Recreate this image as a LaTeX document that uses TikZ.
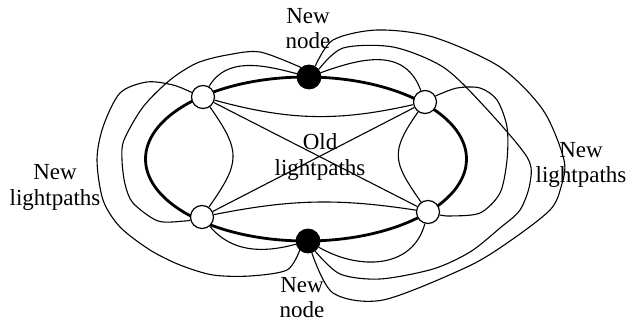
\documentclass[tikz,border=0pt]{standalone}
\usepackage{fontspec}
\setmainfont{Liberation Serif}
\begin{document}
\begin{tikzpicture}[x=1pt,y=1pt,
  ringline/.style={line width=2.8pt},
  pathline/.style={line width=1.1pt},
  site/.style={circle,draw,line width=1.2pt,fill=white,minimum size=23pt,inner sep=0pt},
  newsite/.style={circle,draw,line width=0.8pt,fill=black,minimum size=24pt,inner sep=0pt},
  lbl/.style={align=center,inner sep=0pt,font=\fontsize{23}{25.5}\selectfont}]
\useasboundingbox (0,0) rectangle (639,324);

% fibre ring
\draw[ringline] (306,165) ellipse [x radius=160.5, y radius=82];

% existing and added nodes on the ring
\node[site] (TL) at (203,227) {};
\node[site] (TR) at (425,222) {};
\node[site] (BR) at (428,112) {};
\node[site] (BL) at (202,107) {};
\node[newsite] (T) at (309,247) {};
\node[newsite] (B) at (308,83) {};

% old lightpaths inside the ring
\draw[pathline] (TL) -- (BR);
\draw[pathline] (TR) -- (BL);
\draw[pathline] (TL) to[bend right=14] (TR);
\draw[pathline] (BL) to[bend left=10] (BR);
\draw[pathline] (TL) to[out=-55,in=55,looseness=1.4] (BL);
\draw[pathline] (TR) to[out=-125,in=125,looseness=1.4] (BR);

% new lightpaths outside the ring
\draw[pathline] (T) to[out=165,in=60] (TL);
\draw[pathline] (T) to[out=20,in=110,looseness=1.15] (TR);
\draw[pathline] (B) to[out=-30,in=-105,looseness=1.1] (BR);
\draw[pathline] (BL) to[out=-50,in=195] (B);
\draw[pathline] plot[smooth] coordinates {(T.130) (260,272) (227,269) (197,261) (170,244) (143,217) (124,184) (122,164) (125,140) (133,121) (158,103) (185,103) (BL.194)};
\draw[pathline] plot[smooth] coordinates {(TL.158) (173,239) (147,242) (120,231) (103,197) (97,164) (103,124) (120,97) (150,74) (180,59) (213,49) (250,48) (287,54) (B.228)};
\draw[pathline] plot[smooth] coordinates {(TR.30) (457,236) (480,236) (497,224) (507,197) (507,164) (500,131) (480,111) (450,108) (BR.-14)};
\draw[pathline] plot[smooth] coordinates {(T.38) (343,276) (393,277) (443,257) (483,219) (527,167) (530,141) (520,114) (500,96) (470,72) (433,55) (380,45) (340,50) (B.-55)};
\draw[pathline] plot[smooth] coordinates {(T.60) (333,284) (377,294) (433,287) (500,257) (543,214) (564,164) (561,137) (550,114) (510,83) (467,57) (383,24) (333,31) (B.-72)};

% labels
\node[lbl] (lt) at (308,295.5) {New\\node};
\node[lbl] (lb) at (302,26.5) {New\\node};
\node[lbl] (ll) at (55,136.7) {New\\lightpaths};
\node[lbl] (lr) at (581,159.2) {New\\lightpaths};
\node[lbl] (lc) at (320,167) {Old\\lightpaths};
\end{tikzpicture}
\end{document}
